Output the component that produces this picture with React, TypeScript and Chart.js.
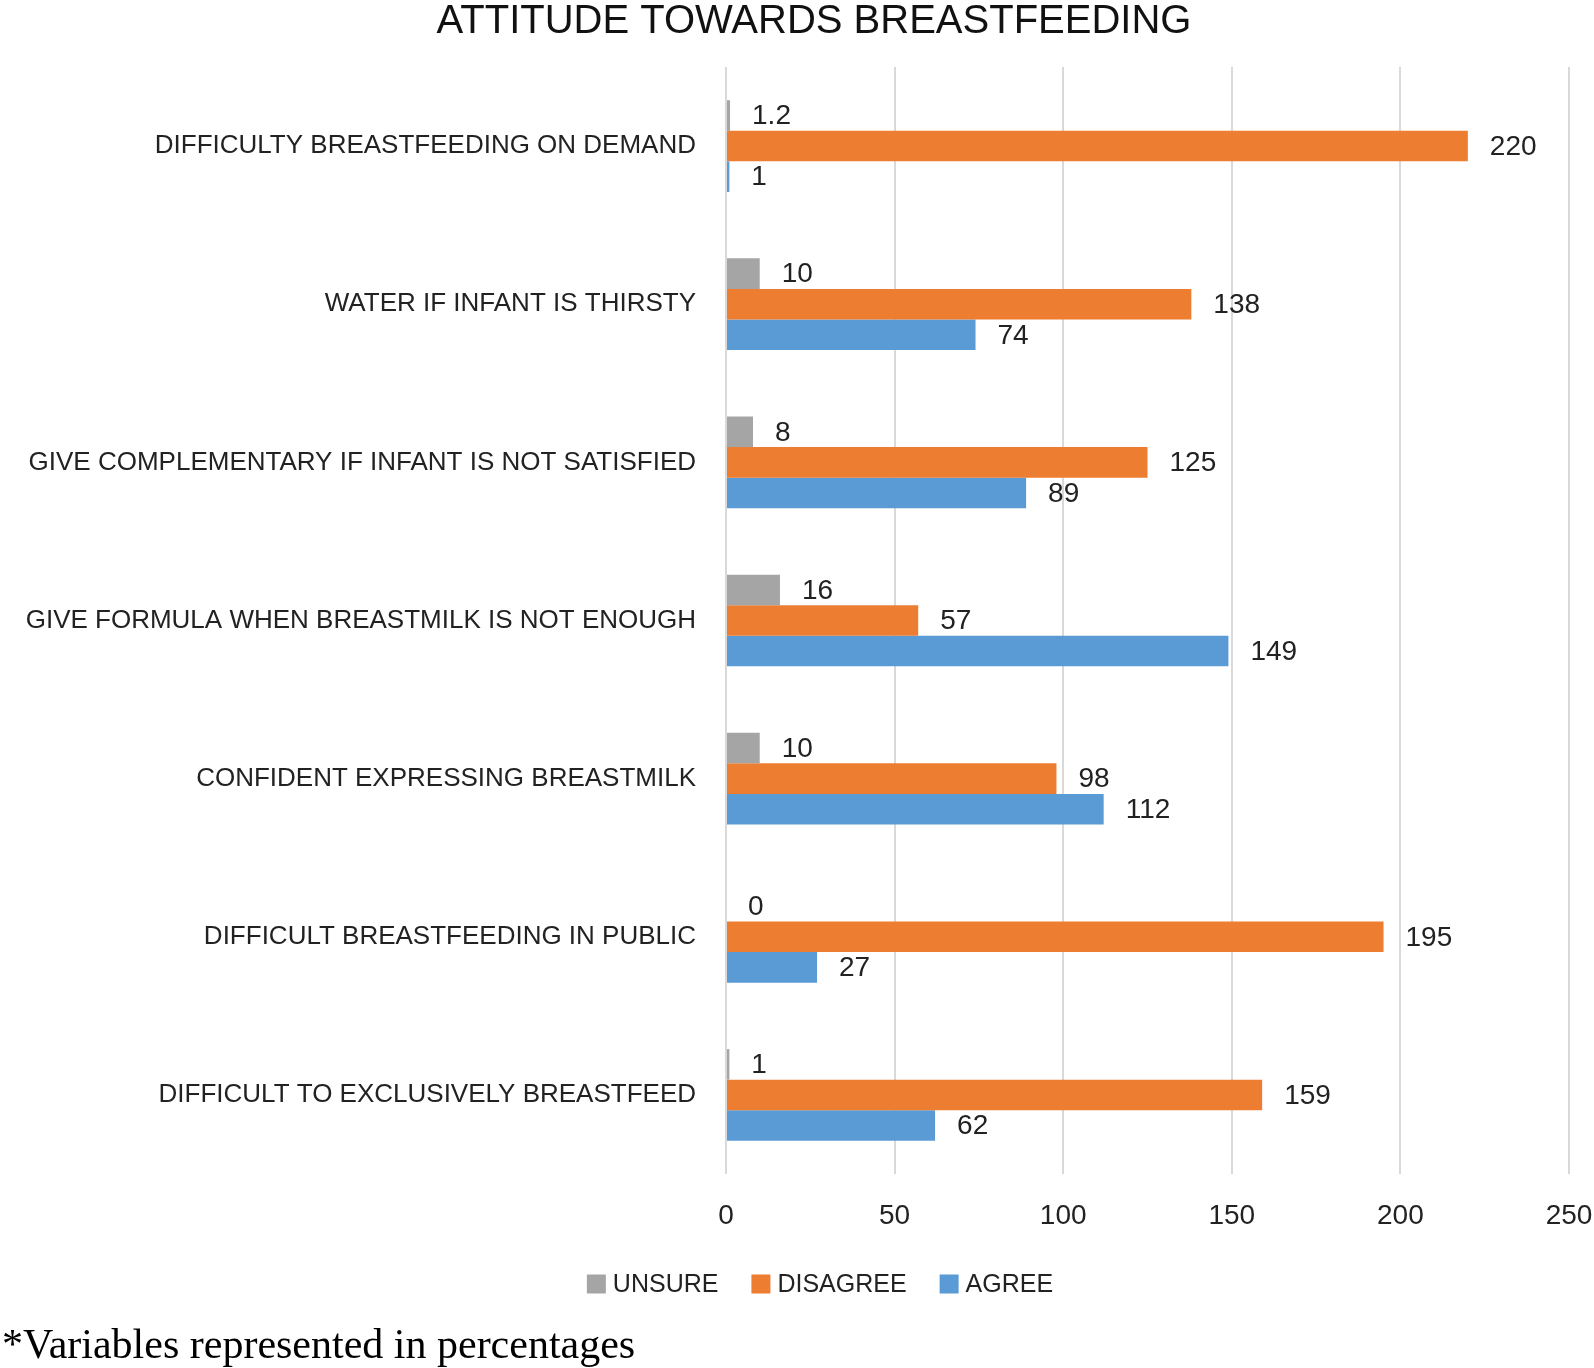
import React, { useEffect, useRef } from "react";
import { Chart, registerables } from "chart.js";

Chart.register(...registerables);

const TITLE = "ATTITUDE TOWARDS BREASTFEEDING";
const FOOTNOTE = "*Variables represented in percentages";

const categories = [
  "DIFFICULTY BREASTFEEDING ON DEMAND",
  "WATER IF INFANT IS THIRSTY",
  "GIVE COMPLEMENTARY IF INFANT IS NOT SATISFIED",
  "GIVE FORMULA WHEN BREASTMILK IS NOT ENOUGH",
  "CONFIDENT EXPRESSING BREASTMILK",
  "DIFFICULT BREASTFEEDING IN PUBLIC",
  "DIFFICULT TO EXCLUSIVELY BREASTFEED",
];

const unsure = [1.2, 10, 8, 16, 10, 0, 1];
const disagree = [220, 138, 125, 57, 98, 195, 159];
const agree = [1, 74, 89, 149, 112, 27, 62];

const seriesNames = ["UNSURE", "DISAGREE", "AGREE"];
const seriesColors = ["#a5a5a5", "#ed7d31", "#5b9bd5"];

const xTicks = [0, 50, 100, 150, 200, 250];

const SANS = "'Liberation Sans', Arial, sans-serif";
const SERIF = "'Liberation Serif', 'Times New Roman', serif";
const TEXT = "#222222";

const fmt = (v: number) => (Number.isInteger(v) ? String(v) : v.toFixed(1));

const decorPlugin = {
  id: "decor",
  afterDatasetsDraw(chart: any) {
    const ctx = chart.ctx;
    ctx.save();
    ctx.font = `28px ${SANS}`;
    ctx.fillStyle = TEXT;
    ctx.textAlign = "left";
    ctx.textBaseline = "middle";
    chart.data.datasets.forEach((ds: any, i: number) => {
      const meta = chart.getDatasetMeta(i);
      meta.data.forEach((el: any, j: number) => {
        const v = ds.data[j];
        ctx.fillText(fmt(v), el.x + 22, el.y + 1);
      });
    });
    ctx.restore();
  },
  afterDraw(chart: any) {
    const ctx = chart.ctx;
    ctx.save();
    // Title
    ctx.font = `40px ${SANS}`;
    ctx.fillStyle = "#111111";
    ctx.textAlign = "center";
    ctx.textBaseline = "alphabetic";
    ctx.fillText(TITLE, 814, 33);

    // Legend
    ctx.font = `25px ${SANS}`;
    const box = 19;
    const gapText = 7;
    const gapItem = 33;
    const widths = seriesNames.map((n) => ctx.measureText(n).width);
    const total =
      widths.reduce((a, b) => a + b, 0) + seriesNames.length * (box + gapText) + gapItem * (seriesNames.length - 1);
    let x = 820 - total / 2;
    const cy = 1284;
    ctx.textAlign = "left";
    ctx.textBaseline = "middle";
    seriesNames.forEach((n, i) => {
      ctx.fillStyle = seriesColors[i];
      ctx.fillRect(x, cy - box / 2, box, box);
      x += box + gapText;
      ctx.fillStyle = TEXT;
      ctx.fillText(n, x, cy + 1);
      x += widths[i] + gapItem;
    });

    // Footnote
    ctx.font = `42px ${SERIF}`;
    ctx.fillStyle = "#000000";
    ctx.textAlign = "left";
    ctx.textBaseline = "alphabetic";
    ctx.fillText(FOOTNOTE, 2, 1358);
    ctx.restore();
  },
};

export default function App() {
  const ref = useRef<HTMLCanvasElement | null>(null);

  useEffect(() => {
    document.body.style.margin = "0";
    const canvas = ref.current;
    if (!canvas) return;
    const chart = new Chart(canvas, {
      type: "bar",
      data: {
        labels: categories,
        datasets: [
          { label: seriesNames[0], data: unsure, backgroundColor: seriesColors[0] },
          { label: seriesNames[1], data: disagree, backgroundColor: seriesColors[1] },
          { label: seriesNames[2], data: agree, backgroundColor: seriesColors[2] },
        ],
      },
      options: {
        indexAxis: "y",
        responsive: true,
        maintainAspectRatio: false,
        animation: false,
        events: [],
        layout: { padding: { top: 67, right: 0, bottom: 134, left: 0 } },
        datasets: {
          bar: { categoryPercentage: 0.58, barPercentage: 1.0, borderWidth: 0 },
        },
        plugins: {
          legend: { display: false },
          title: { display: false },
          tooltip: { enabled: false },
        },
        scales: {
          x: {
            type: "linear",
            min: xTicks[0],
            max: xTicks[xTicks.length - 1],
            afterBuildTicks: (scale: any) => {
              scale.ticks = xTicks.map((v) => ({ value: v }));
            },
            afterFit: (scale: any) => {
              scale.height = 60;
              scale.paddingRight = 25;
            },
            grid: { color: "#d9d9d9", lineWidth: 2, drawTicks: false },
            border: { display: false },
            ticks: {
              font: { size: 28, family: SANS },
              color: TEXT,
              padding: 25,
              maxRotation: 0,
            },
          },
          y: {
            afterFit: (scale: any) => {
              scale.width = 726;
            },
            grid: { display: false, drawTicks: false },
            border: { display: false },
            ticks: {
              font: { size: 26, family: SANS },
              color: TEXT,
              padding: 30,
            },
          },
        },
      },
      plugins: [decorPlugin],
    });
    return () => chart.destroy();
  }, []);

  return (
    <div style={{ width: 1594, height: 1368, position: "relative" }}>
      <canvas ref={ref} />
    </div>
  );
}
